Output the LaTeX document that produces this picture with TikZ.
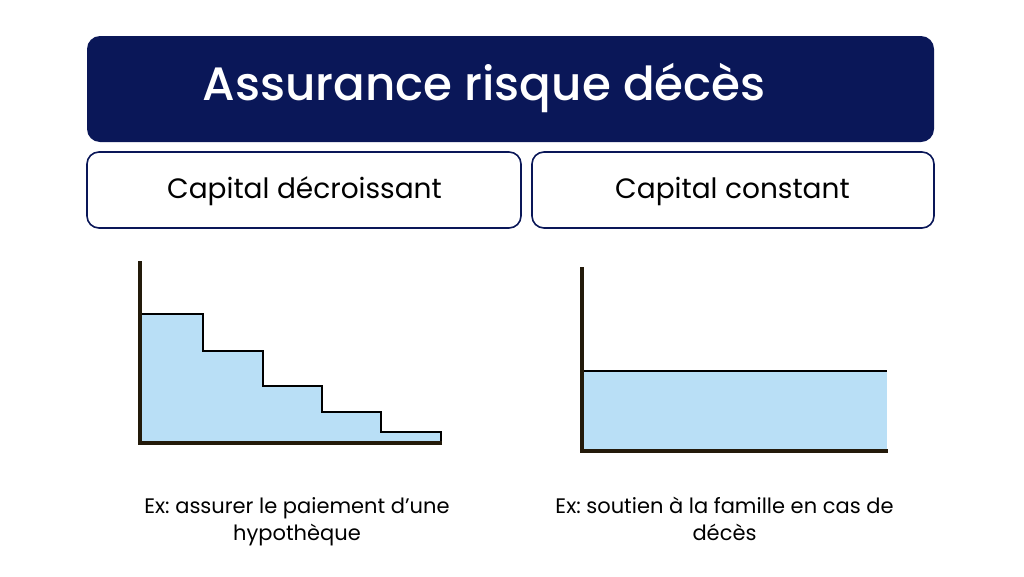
\documentclass[tikz,border=0pt]{standalone}
\usepackage{fontspec}
\setmainfont{Poppins}
\newfontfamily\titlefont{Poppins Medium}
\definecolor{navy}{HTML}{0A1758}
\definecolor{fillblue}{HTML}{B9DFF6}
\definecolor{axisc}{HTML}{231A0A}
\frenchspacing
\begin{document}
\begin{tikzpicture}[x=1pt,y=-1pt,
  header/.style={fill=navy,rounded corners=13pt},
  subbox/.style={draw=navy,line width=1.6pt,fill=white,rounded corners=12pt},
  axisline/.style={draw=axisc,line width=4pt},
  stepline/.style={draw=black,line width=1.6pt},
  lbl/.style={anchor=base,inner sep=0pt,font=\fontsize{28}{32}\selectfont},
  ex/.style={anchor=base,inner sep=0pt,align=center,font=\fontsize{21}{27}\selectfont}]
\useasboundingbox (0,0) rectangle (1024,576);
\fill[white] (0,0) rectangle (1024,576);
% header
\path[header] (87,36) rectangle (934,142);
\node[anchor=base,inner sep=0pt,text=white,font=\titlefont\fontsize{46.8}{52}\selectfont] (title) at (484,100) {Assurance risque décès};
% sub boxes
\path[subbox] (87,152) rectangle (521,228);
\path[subbox] (532,152) rectangle (934,228);
\node[lbl] (lcap) at (304.5,198) {Capital décroissant};
\node[lbl] (rcap) at (732.5,198) {Capital constant};
% left chart
\fill[fillblue] (140,314) -- (203,314) -- (203,351) -- (263,351) -- (263,386) -- (322,386) -- (322,412) -- (381,412) -- (381,432) -- (441,432) -- (441,442) -- (140,442) -- cycle;
\draw[stepline] (140,314) -- (203,314) -- (203,351) -- (263,351) -- (263,386) -- (322,386) -- (322,412) -- (381,412) -- (381,432) -- (441,432) -- (441,442);
\draw[axisline] (140,261) -- (140,443) -- (442,443);
% right chart
\fill[fillblue] (582,371) rectangle (887,450);
\draw[stepline] (582,371) -- (887,371);
\draw[axisline] (582,267) -- (582,451) -- (888,451);
% examples
\node[ex] (lex) at (297,540) {Ex: assurer le paiement d’une\\hypothèque};
\node[ex] (rex) at (724.5,540) {Ex: soutien à la famille en cas de\\décès};
\end{tikzpicture}
\end{document}
